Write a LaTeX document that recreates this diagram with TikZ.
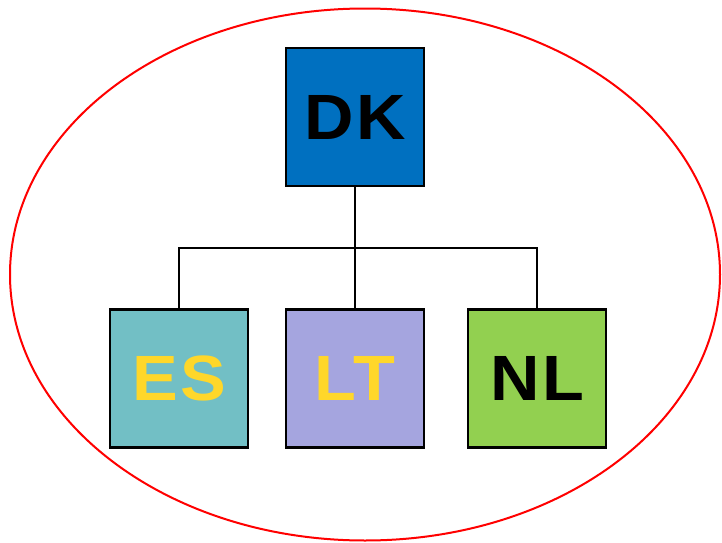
\documentclass[tikz,border=0pt]{standalone}
\usepackage{fontspec}
\setmainfont{Liberation Sans}
\newfontfamily\unitfont[LetterSpace=4,FakeStretch=1.07]{Liberation Sans}
\definecolor{dkblue}{HTML}{0070C0}
\definecolor{esteal}{HTML}{72BFC5}
\definecolor{ltlav}{HTML}{A5A5DF}
\definecolor{nlgreen}{HTML}{92D050}
\definecolor{labelyellow}{HTML}{FFD72A}
\begin{document}
\begin{tikzpicture}[x=0.75pt,y=-0.75pt,
  unit/.style={draw=black,line width=1.6pt,minimum width=138*0.75pt,minimum height=138*0.75pt,
    inner sep=0pt,font=\unitfont\fontsize{48}{48}\selectfont\bfseries},
  link/.style={draw=black,line width=1.1pt}]
  \useasboundingbox (0,0) rectangle (722,543);
  % outer boundary
  \draw[red,line width=1.5pt] (365,274.5) ellipse [x radius=355, y radius=266];
  % org units
  \node[unit,fill=dkblue,text=black] (dk) at (355,117) {DK};
  \node[unit,fill=esteal,text=labelyellow] (es) at (179,378.5) {ES};
  \node[unit,fill=ltlav,text=labelyellow] (lt) at (355,378.5) {LT};
  \node[unit,fill=nlgreen,text=black] (nl) at (537,378.5) {NL};
  % tree connectors
  \coordinate (bus) at (355,248);
  \draw[link] (dk.south) -- (bus);
  \draw[link] (es.north) |- (bus) -| (nl.north);
  \draw[link] (bus) -- (lt.north);
\end{tikzpicture}
\end{document}
